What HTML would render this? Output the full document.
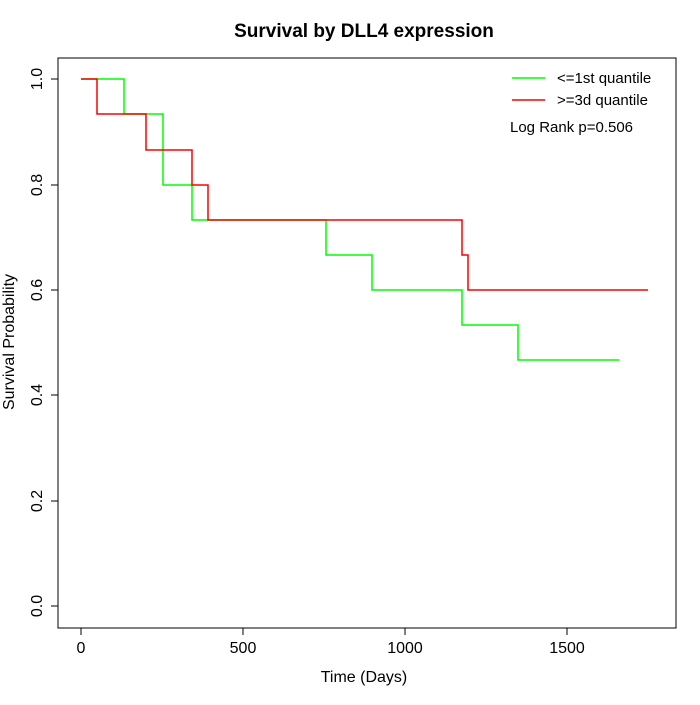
<!DOCTYPE html>
<html><head><meta charset="utf-8"><style>body{margin:0;background:#fff}</style></head><body>
<svg width="700" height="700" xmlns="http://www.w3.org/2000/svg" font-family="Liberation Sans, sans-serif">
<rect width="700" height="700" fill="#fff"/>
<text x="364" y="37" text-anchor="middle" font-size="19" font-weight="bold">Survival by DLL4 expression</text>
<rect x="58" y="58" width="618" height="570" fill="none" stroke="#000"/>
<g stroke="#000">
<line x1="81" y1="628" x2="567" y2="628"/>
<line x1="81" y1="628" x2="81" y2="635"/><line x1="243" y1="628" x2="243" y2="635"/><line x1="405" y1="628" x2="405" y2="635"/><line x1="567" y1="628" x2="567" y2="635"/>
<line x1="58" y1="79" x2="58" y2="606"/>
<line x1="58" y1="79" x2="51" y2="79"/><line x1="58" y1="185" x2="51" y2="185"/><line x1="58" y1="290" x2="51" y2="290"/><line x1="58" y1="395" x2="51" y2="395"/><line x1="58" y1="501" x2="51" y2="501"/><line x1="58" y1="606" x2="51" y2="606"/>
</g>
<g font-size="16" text-anchor="middle">
<text x="81" y="653">0</text><text x="243" y="653">500</text><text x="405" y="653">1000</text><text x="567" y="653">1500</text>
<text x="364" y="682">Time (Days)</text>
<text transform="translate(42,79) rotate(-90)">1.0</text>
<text transform="translate(42,185) rotate(-90)">0.8</text>
<text transform="translate(42,290) rotate(-90)">0.6</text>
<text transform="translate(42,395) rotate(-90)">0.4</text>
<text transform="translate(42,501) rotate(-90)">0.2</text>
<text transform="translate(42,606) rotate(-90)">0.0</text>
<text transform="translate(14,342) rotate(-90)">Survival Probability</text>
</g>
<polyline fill="none" stroke="#00ff00" stroke-width="1.5" points="81,79 124,79 124,114 163,114 163,185 192,185 192,220 326,220 326,255 372,255 372,290 462,290 462,325 518,325 518,360 619,360"/>
<polyline fill="none" stroke="#ff0000" stroke-width="1.5" points="81,79 97,79 97,114 146,114 146,150 192,150 192,185 208,185 208,220 462,220 462,255 468,255 468,290 648,290"/>
<line x1="512" y1="78" x2="545" y2="78" stroke="#00ff00" stroke-width="1.5"/>
<line x1="512" y1="100" x2="545" y2="100" stroke="#ff0000" stroke-width="1.5"/>
<g font-size="15"><text x="557" y="83">&lt;=1st quantile</text><text x="557" y="105">&gt;=3d quantile</text><text x="510" y="132">Log Rank p=0.506</text></g>
</svg>
</body></html>
